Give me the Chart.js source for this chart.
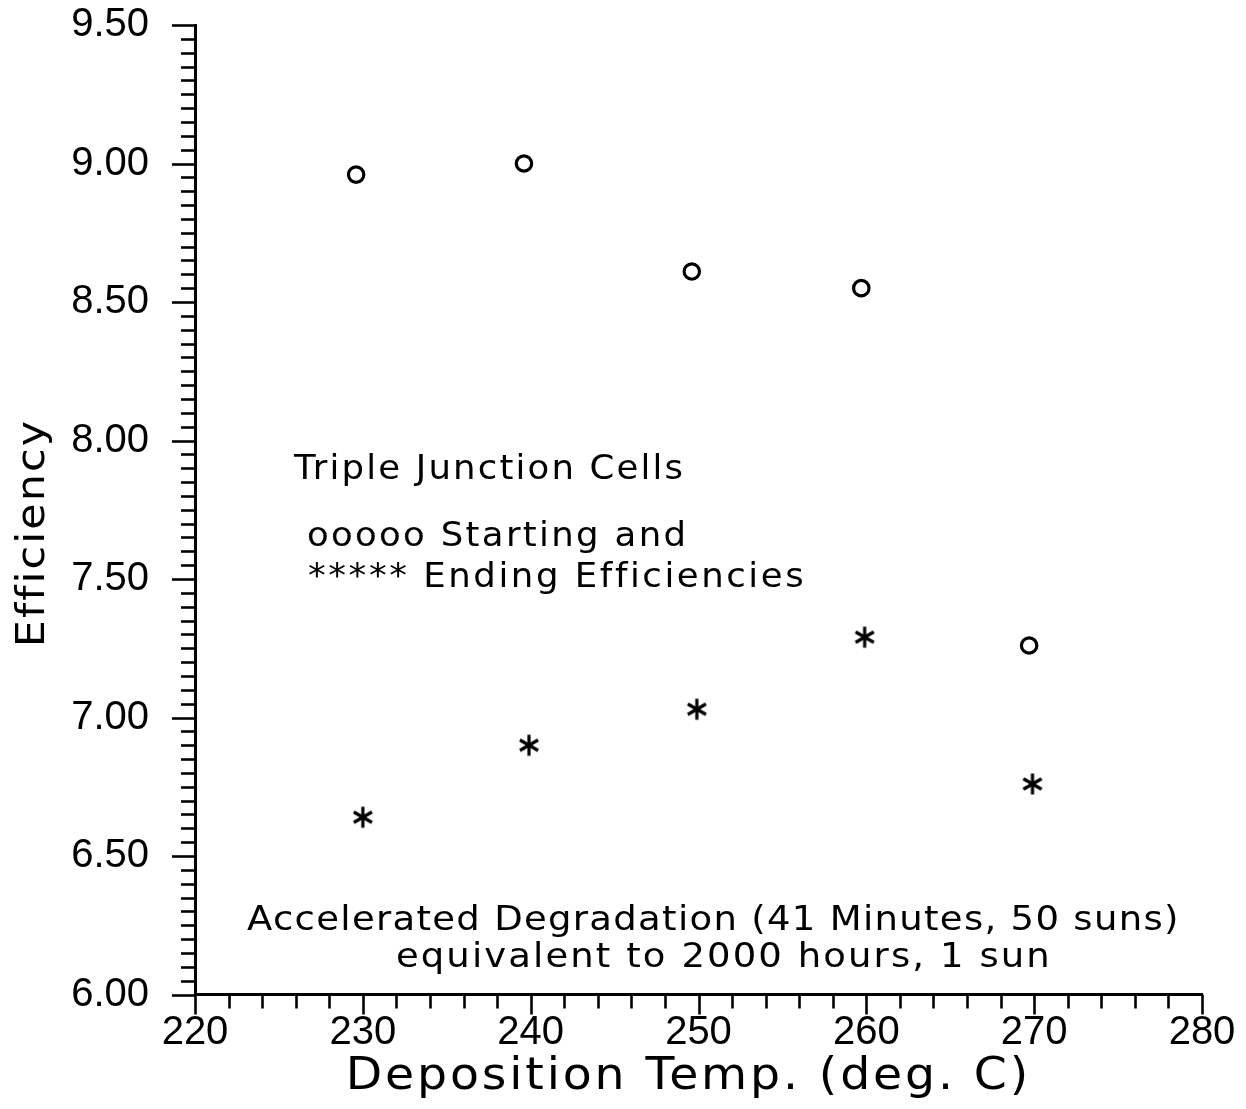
<!DOCTYPE html>
<html>
<head>
<meta charset="utf-8">
<script src="https://cdn.jsdelivr.net/npm/chart.js@4.4.1/dist/chart.umd.min.js"></script>
<style>
  html, body { margin: 0; padding: 0; background: #ffffff; }
  canvas { display: block; }
</style>
</head>
<body>
<canvas id="c" width="1246" height="1109"></canvas>
<script>
// ---- data ----
const startTemp = [229.6, 239.6, 249.6, 259.7, 269.7];   // "ooooo" starting efficiencies
const startEff  = [8.96, 9.00, 8.61, 8.55, 7.26];
const endTemp   = [230.0, 239.9, 249.9, 259.9, 269.9];   // "*****" ending efficiencies
const endEff    = [6.64, 6.90, 7.03, 7.29, 6.76];

const xTickValues = [220, 230, 240, 250, 260, 270, 280];
const yTickValues = [6.00, 6.50, 7.00, 7.50, 8.00, 8.50, 9.00, 9.50];
const xMinorStep = 2;
const yMinorStep = 0.05;

const yTitle = "Efficiency";
const xTitle = "Deposition Temp. (deg. C)";
const noteLines = [
  "Triple Junction Cells",
  "ooooo Starting and",
  "***** Ending Efficiencies",
  "Accelerated Degradation (41 Minutes, 50 suns)",
  "equivalent to 2000 hours, 1 sun"
];

// ---- styling ----
const TICK_FONT = "'Liberation Sans', Arial, sans-serif";
const TEXT_FONT = "'DejaVu Sans', 'Liberation Sans', sans-serif";
const INK = "#000000";

// six-armed asterisk marker
function makeAsterisk() {
  const size = 28, c = document.createElement('canvas');
  c.width = size; c.height = size;
  const g = c.getContext('2d');
  g.strokeStyle = INK; g.lineWidth = 3.2; g.lineCap = 'butt';
  const r = 10.5, cx = size / 2, cy = size / 2;
  for (let k = 0; k < 3; k++) {
    const a = Math.PI / 2 + k * Math.PI / 3;
    g.beginPath();
    g.moveTo(cx + r * Math.cos(a), cy - r * Math.sin(a));
    g.lineTo(cx - r * Math.cos(a), cy + r * Math.sin(a));
    g.stroke();
  }
  return c;
}
const asterisk = makeAsterisk();

// minor/major tick marks drawn through the scales
const tickMarks = {
  id: 'tickMarks',
  afterDraw(chart) {
    const { ctx, chartArea } = chart;
    const xs = chart.scales.x, ys = chart.scales.y;
    ctx.save();
    ctx.strokeStyle = INK;
    ctx.lineWidth = 2.6;
    ctx.lineCap = 'butt';
    const left = chartArea.left, bottom = chartArea.bottom;
    const nY = Math.round((ys.max - ys.min) / yMinorStep);
    for (let i = 0; i <= nY; i++) {
      const v = ys.min + i * yMinorStep;
      const py = Math.round(ys.getPixelForValue(v)) + 0.5;
      const major = i % 10 === 0;
      ctx.beginPath();
      ctx.moveTo(left, py);
      ctx.lineTo(left - (major ? 23 : 14), py);
      ctx.stroke();
    }
    const nX = Math.round((xs.max - xs.min) / xMinorStep);
    for (let i = 0; i <= nX; i++) {
      const v = xs.min + i * xMinorStep;
      const px = Math.round(xs.getPixelForValue(v)) + 0.5;
      const major = i % 5 === 0;
      ctx.beginPath();
      ctx.moveTo(px, bottom);
      ctx.lineTo(px, bottom + (major ? 20 : 14));
      ctx.stroke();
    }
    ctx.restore();
  }
};

// text placed to fit a box: left/right extent, baseline and cap height
function fitText(ctx, text, left, right, baseline, capH, rotate) {
  ctx.save();
  ctx.font = `100px ${TEXT_FONT}`;
  const hAsc = ctx.measureText('H').actualBoundingBoxAscent;
  const size = capH * 100 / hAsc;
  ctx.font = `${size.toFixed(2)}px ${TEXT_FONT}`;
  ctx.fillStyle = INK;
  ctx.textAlign = 'left';
  ctx.textBaseline = 'alphabetic';
  const m = ctx.measureText(text);
  const w0 = m.actualBoundingBoxLeft + m.actualBoundingBoxRight;
  const target = right - left;
  const n = text.length;
  let sx = Math.min(target / w0, 1.08);
  let ls = (target - w0 * sx) / ((n - 1) * sx);
  if (!('letterSpacing' in ctx)) { sx = target / w0; ls = 0; }
  else ctx.letterSpacing = ls.toFixed(2) + 'px';
  if (rotate) {
    ctx.translate(baseline, left);
    ctx.rotate(-Math.PI / 2);
  } else {
    ctx.translate(left, baseline);
  }
  ctx.scale(sx, 1);
  ctx.fillText(text, m.actualBoundingBoxLeft, 0);
  ctx.restore();
}

const annotations = {
  id: 'annotations',
  afterDraw(chart) {
    const ctx = chart.ctx;
    fitText(ctx, yTitle, 644, 866, 44, 29, true);
    fitText(ctx, xTitle, 350, 1025, 1089, 32, false);
    fitText(ctx, noteLines[0], 293, 682, 479, 24, false);
    fitText(ctx, noteLines[1], 308, 683, 546, 24, false);
    fitText(ctx, noteLines[2], 308, 802, 587, 24, false);
    fitText(ctx, noteLines[3], 247, 1176, 930, 25, false);
    fitText(ctx, noteLines[4], 397, 1047, 967, 25, false);
  }
};

const chart = new Chart(document.getElementById('c'), {
  type: 'scatter',
  data: {
    datasets: [
      {
        label: 'Starting',
        data: startTemp.map((t, i) => ({ x: t, y: startEff[i] })),
        pointStyle: 'circle',
        pointRadius: 7.7,
        borderWidth: 3.2,
        borderColor: INK,
        backgroundColor: 'rgba(0,0,0,0)'
      },
      {
        label: 'Ending',
        data: endTemp.map((t, i) => ({ x: t, y: endEff[i] })),
        pointStyle: asterisk,
        pointRadius: 10,
        borderColor: INK,
        backgroundColor: INK
      }
    ]
  },
  options: {
    responsive: false,
    animation: false,
    devicePixelRatio: 1,
    layout: { padding: { left: 0, top: 25, right: 44, bottom: 0 } },
    plugins: { legend: { display: false }, tooltip: { enabled: false } },
    scales: {
      x: {
        type: 'linear',
        min: xTickValues[0],
        max: xTickValues[xTickValues.length - 1],
        afterFit(s) { s.height = 114.5; s.paddingLeft = 0; s.paddingRight = 0; },
        afterBuildTicks(s) { s.ticks = xTickValues.map(v => ({ value: v })); },
        ticks: {
          font: { family: TICK_FONT, size: 40 },
          color: INK,
          padding: 14,
          maxRotation: 0,
          autoSkip: false,
          callback: v => String(v)
        },
        grid: { display: true, drawOnChartArea: false, drawTicks: false },
        border: { display: true, color: INK, width: 3 }
      },
      y: {
        type: 'linear',
        min: yTickValues[0],
        max: yTickValues[yTickValues.length - 1],
        afterFit(s) { s.width = 195; s.paddingTop = 0; s.paddingBottom = 0; },
        afterBuildTicks(s) { s.ticks = yTickValues.map(v => ({ value: v })); },
        ticks: {
          font: { family: TICK_FONT, size: 40 },
          color: INK,
          padding: 46,
          autoSkip: false,
          callback: v => Number(v).toFixed(2)
        },
        grid: { display: true, drawOnChartArea: false, drawTicks: false },
        border: { display: true, color: INK, width: 3 }
      }
    }
  },
  plugins: [tickMarks, annotations]
});
</script>
</body>
</html>
